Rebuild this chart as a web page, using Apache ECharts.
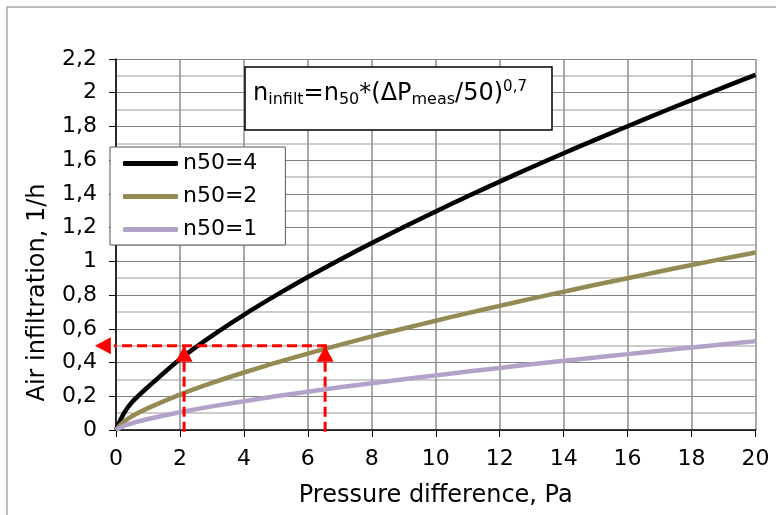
<!DOCTYPE html>
<html>
<head>
<meta charset="utf-8">
<script src="https://cdn.jsdelivr.net/npm/echarts@6/dist/echarts.min.js"></script>
<style>
  html, body { margin: 0; padding: 0; background: #fff; }
  #chart { width: 776px; height: 515px; }
</style>
</head>
<body>
<div id="chart"></div>
<script>
// values (Pa -> 1/h)
const pressure = [0, 0.25, 0.5, 1, 2, 3, 4, 5, 6, 7, 8, 9, 10, 11, 12, 13, 14, 15, 16, 17, 18, 19, 20];
const n50_4 = [0, 0.10, 0.165, 0.255, 0.42, 0.558, 0.683, 0.798, 0.907, 1.010, 1.109, 1.204, 1.296, 1.386, 1.473, 1.558, 1.641, 1.722, 1.801, 1.880, 1.956, 2.032, 2.106];
const n50_2 = [0, 0.05, 0.082, 0.13, 0.21, 0.279, 0.341, 0.399, 0.453, 0.505, 0.555, 0.602, 0.648, 0.693, 0.736, 0.779, 0.820, 0.861, 0.900, 0.940, 0.978, 1.016, 1.053];
const n50_1 = [0, 0.025, 0.04, 0.065, 0.105, 0.140, 0.171, 0.200, 0.227, 0.253, 0.277, 0.301, 0.324, 0.347, 0.368, 0.390, 0.410, 0.430, 0.450, 0.470, 0.489, 0.508, 0.527];
const seriesNames = ['n50=4', 'n50=2', 'n50=1'];
const seriesColors = ['#000000', '#948A54', '#B3A2C7'];

// red read-off guide: 0,5 1/h at ~2,1 Pa and ~6,5 Pa
const guideLevel = 0.5;
const guidePressures = [2.13, 6.54];
const guideArrowEnd = -0.66;

const FONT = 'DejaVu Sans';

const chart = echarts.init(document.getElementById('chart'));

const curves = [n50_4, n50_2, n50_1].map((vals, i) => ({
    name: seriesNames[i],
    type: 'line',
    smooth: 0.3,
    showSymbol: false,
    color: seriesColors[i],
    lineStyle: { width: 4.5, color: seriesColors[i] },
    data: pressure.map((p, k) => [p, vals[k]]),
    z: 3
}));

// dashed red guides, arrow head on the last point
function guideLine(from, to, rotate, offset) {
    return {
        type: 'line',
        clip: false,
        silent: true,
        symbol: 'none',
        showSymbol: true,
        z: 4,
        color: '#ff0000',
        itemStyle: { color: '#ff0000' },
        lineStyle: { color: '#ff0000', type: [10, 5], width: 3 },
        emphasis: { disabled: true },
        data: [
            from,
            { value: to, symbol: 'triangle', symbolSize: [17, 16], symbolRotate: rotate, symbolOffset: offset }
        ]
    };
}

const guides = [
    guideLine([guidePressures[1] + 0.06, guideLevel], [guideArrowEnd, guideLevel], 90, [8, 0]),
    guideLine([guidePressures[0], -0.01], [guidePressures[0], guideLevel], 0, [0, 8]),
    guideLine([guidePressures[1], -0.01], [guidePressures[1], guideLevel], 0, [0, 8])
];

const options = {
    animation: false,
    backgroundColor: '#fff',
    textStyle: { fontFamily: FONT },
    grid: { left: 116, right: 20.5, top: 59, bottom: 85 },
    legend: {
        data: seriesNames,
        orient: 'vertical',
        left: 110,
        top: 147,
        padding: [5, 28, 4, 13],
        itemGap: 10,
        itemWidth: 55,
        itemHeight: 5,
        icon: 'roundRect',
        selectedMode: false,
        backgroundColor: '#fff',
        borderColor: '#555',
        borderWidth: 1,
        textStyle: { fontFamily: FONT, fontSize: 22, color: '#000', lineHeight: 23 }
    },
    xAxis: {
        type: 'value',
        min: 0,
        max: 20,
        interval: 2,
        name: 'Pressure difference, Pa',
        nameLocation: 'middle',
        nameGap: 54,
        nameTextStyle: { fontFamily: FONT, fontSize: 24, color: '#000' },
        axisLine: { lineStyle: { color: '#000', width: 1.5 } },
        axisTick: { show: true, length: 7, lineStyle: { color: '#000' } },
        axisLabel: { fontFamily: FONT, fontSize: 22, color: '#000', margin: 18 },
        splitLine: { show: true, lineStyle: { color: '#8c8c8c', width: 1.5 } }
    },
    yAxis: {
        type: 'value',
        min: 0,
        max: 2.2,
        interval: 0.2,
        name: 'Air infiltration, 1/h',
        nameLocation: 'middle',
        nameGap: 66,
        nameTextStyle: { fontFamily: FONT, fontSize: 24, color: '#000', padding: [0, 96, 0, 0] },
        axisLine: { show: true, lineStyle: { color: '#000', width: 1.5 } },
        axisTick: { show: true, length: 7, lineStyle: { color: '#000' } },
        axisLabel: {
            fontFamily: FONT, fontSize: 22, color: '#000', margin: 19,
            formatter: v => String(Math.round(v * 10) / 10).replace('.', ',')
        },
        splitLine: { show: true, lineStyle: { color: '#808080', width: 1 } },
        minorTick: { show: false, splitNumber: 2 },
        minorSplitLine: { show: true, lineStyle: { color: '#cccccc', width: 2 } }
    },
    graphic: [
        {
            type: 'rect', silent: true, z: 0,
            shape: { x: 7, y: 7, width: 775, height: 520 },
            style: { fill: null, stroke: '#a6a6a6', lineWidth: 1.5 }
        },
        {
            type: 'rect', silent: true, z: 10,
            shape: { x: 245, y: 67, width: 307, height: 63 },
            style: { fill: '#fff', stroke: '#000', lineWidth: 1.5 }
        },
        {
            type: 'text', silent: true, z: 11,
            x: 253, y: 80,
            style: {
                text: '{m|n}{s|infilt}{m|=n}{s|50}{m|*(ΔP}{s|meas}{m|/50)}{p|0,7}',
                verticalAlign: 'top',
                fill: '#000',
                rich: {
                    m: { fontFamily: FONT, fontSize: 24, lineHeight: 28 },
                    s: { fontFamily: FONT, fontSize: 16, lineHeight: 16, verticalAlign: 'bottom' },
                    p: { fontFamily: FONT, fontSize: 15, lineHeight: 15, verticalAlign: 'top' }
                }
            }
        }
    ],
    series: curves.concat(guides)
};

chart.setOption(options);
</script>
</body>
</html>
